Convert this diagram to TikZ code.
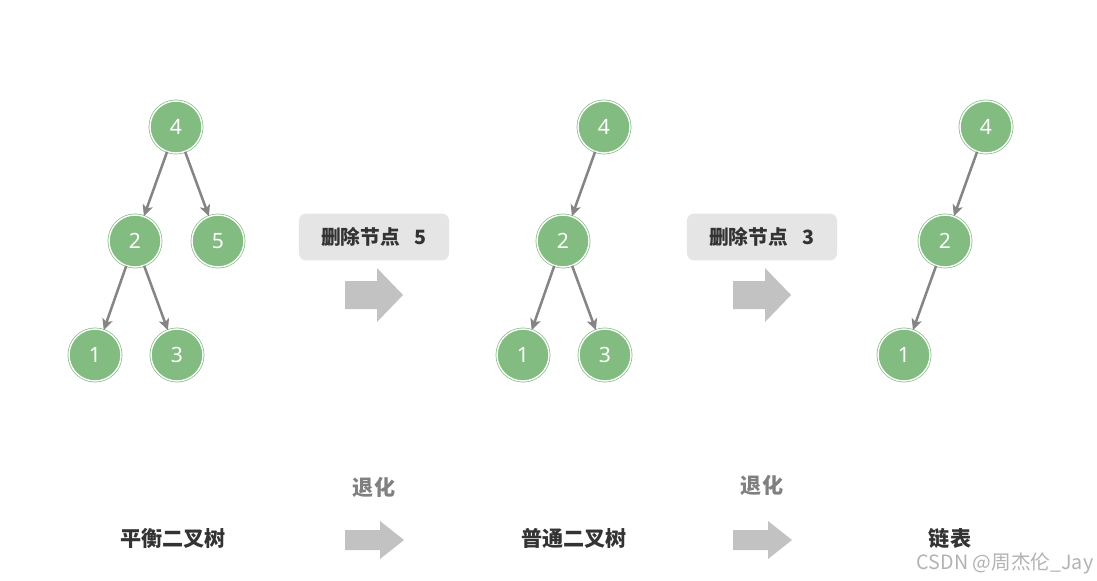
\documentclass[tikz,border=0pt]{standalone}
\usepackage{fontspec}
\setmainfont{Noto Sans}
\newfontfamily\cjk{Noto Sans CJK SC}
\usetikzlibrary{arrows.meta}
\definecolor{tgreen}{HTML}{82BC81}
\definecolor{boxgray}{HTML}{E5E5E5}
\definecolor{arrgray}{HTML}{C2C2C2}
\definecolor{edgegray}{HTML}{858585}

\begin{document}
\begin{tikzpicture}[x=0.025cm, y=-0.025cm,
  nd/.style={circle, minimum size=1.3cm, inner sep=0pt, fill=tgreen, draw=tgreen, double=white, double distance=1pt, line width=0.5pt, text=white, font=\fontsize{15}{15}\selectfont},
  ed/.style={-{Stealth[length=8pt, width=7.5pt, inset=2pt]}, draw=edgegray, line width=1.8pt},
  lbl/.style={fill=boxgray, rounded corners=5pt, minimum width=3.75cm, minimum height=1.17cm, text=black!80, font=\cjk\bfseries\fontsize{14}{14}\selectfont},
  title/.style={text=black!80, font=\cjk\bfseries\fontsize{15}{15}\selectfont},
  deg/.style={text=black!50, font=\cjk\bfseries\fontsize{15}{15}\selectfont}]
\useasboundingbox (0,0) rectangle (1097,580);

% balanced tree
\node[nd] (a4) at (176,127) {4};
\node[nd] (a2) at (135,241) {2};
\node[nd] (a5) at (218,241) {5};
\node[nd] (a1) at (95,355) {1};
\node[nd] (a3) at (177,355) {3};
\draw[ed] (a4) -- (a2); \draw[ed] (a4) -- (a5);
\draw[ed] (a2) -- (a1); \draw[ed] (a2) -- (a3);

% after removing 5
\node[nd] (b4) at (604,127) {4};
\node[nd] (b2) at (563,241) {2};
\node[nd] (b1) at (523,355) {1};
\node[nd] (b3) at (605,355) {3};
\draw[ed] (b4) -- (b2);
\draw[ed] (b2) -- (b1); \draw[ed] (b2) -- (b3);

% after removing 3
\node[nd] (c4) at (986,127) {4};
\node[nd] (c2) at (945,241) {2};
\node[nd] (c1) at (904,355) {1};
\draw[ed] (c4) -- (c2);
\draw[ed] (c2) -- (c1);

\node[lbl] (del5) at (374,237) {删除节点\hspace{0.75em}5};
\node[lbl] (del3) at (762,237) {删除节点\hspace{0.75em}3};

% block arrows
\foreach \x in {345,733} {
  \fill[arrgray] (\x,295) ++(0,-14) -- ++(32,0) -- ++(0,-13) -- ++(26,27)
    -- ++(-26,27) -- ++(0,-13) -- ++(-32,0) -- cycle;
  \fill[arrgray] (\x,540) ++(0,-10) -- ++(35,0) -- ++(0,-9) -- ++(24,19)
    -- ++(-24,19) -- ++(0,-9) -- ++(-35,0) -- cycle;
}

\node[deg] (dg1) at (374,487) {退化};
\node[deg] (dg2) at (762,485) {退化};
\node[title] (t1) at (173,538) {平衡二叉树};
\node[title] (t2) at (574,538) {普通二叉树};
\node[title] (t3) at (950,538) {链表};
\node[text=black!30, font=\cjk\fontsize{14}{14}\selectfont] (wm) at (1005,563) {CSDN @周杰伦\_Jay};
\end{tikzpicture}
\end{document}
